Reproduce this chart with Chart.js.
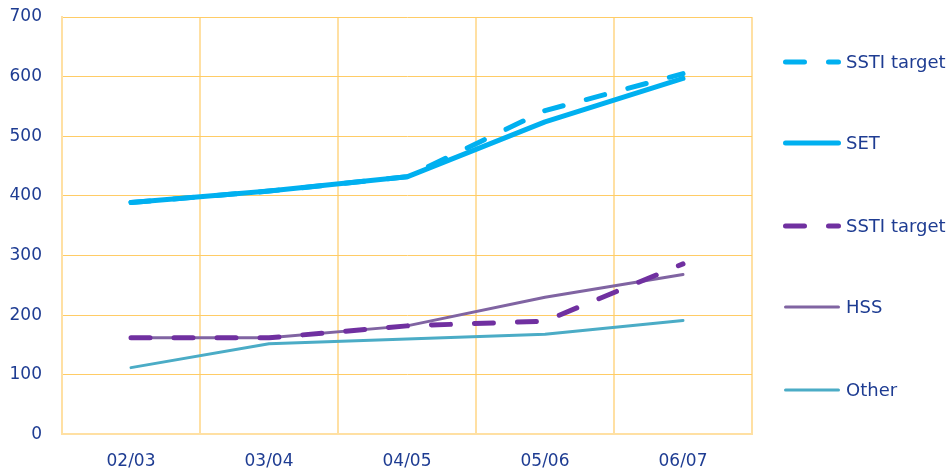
<!DOCTYPE html>
<html>
<head>
<meta charset="utf-8">
<script src="https://cdn.jsdelivr.net/npm/chart.js@4"></script>
<style>
  html, body { margin: 0; padding: 0; background: #fff; }
  #wrap { width: 950px; height: 476px; }
</style>
</head>
<body>
<div id="wrap"><canvas id="trendChart" width="950" height="476"></canvas></div>
<script>
// Years on the x axis
const years = ['02/03', '03/04', '04/05', '05/06', '06/07'];

// Series values
const setTarget = [389, 408, 432, 543, 605];
const setValues = [389, 408, 432, 524, 597];
const hssTarget = [162, 162, 182, 190, 286];
const hssValues = [162, 162, 182, 230, 268];
const otherValues = [112, 152, 160, 168, 191];

const yTicks = [0, 100, 200, 300, 400, 500, 600, 700];

const textColor = '#1e3c92';
const fontFamily = "'DejaVu Sans', Verdana, sans-serif";

const datasets = [
  { label: 'SSTI target', data: setTarget, borderColor: '#00b0f0', borderWidth: 5, borderDash: [19, 24], legendDash: [19, 24] },
  { label: 'SET', data: setValues, borderColor: '#00b0f0', borderWidth: 5 },
  { label: 'SSTI target', data: hssTarget, borderColor: '#7030a0', borderWidth: 5, borderDash: [19, 24], legendDash: [19, 24] },
  { label: 'HSS', data: hssValues, borderColor: '#8064a2', borderWidth: 3 },
  { label: 'Other', data: otherValues, borderColor: '#4bacc6', borderWidth: 3 }
].map(d => Object.assign({
  fill: false,
  tension: 0,
  pointRadius: 0,
  borderCapStyle: 'round',
  borderJoinStyle: 'round'
}, d));

// Legend drawn on the right with line samples
const sideLegend = {
  id: 'sideLegend',
  afterDraw(chart) {
    const ctx = chart.ctx;
    const x0 = 785.5, x1 = 838.5;
    const rowY = [62, 143, 226, 307, 390];
    ctx.save();
    chart.data.datasets.forEach((ds, i) => {
      const y = rowY[i];
      ctx.beginPath();
      ctx.strokeStyle = ds.borderColor;
      ctx.lineWidth = ds.borderWidth;
      ctx.lineCap = 'round';
      ctx.setLineDash(ds.legendDash || []);
      ctx.moveTo(x0, y);
      ctx.lineTo(x1, y);
      ctx.stroke();
      ctx.setLineDash([]);
      ctx.fillStyle = textColor;
      ctx.font = '18px ' + fontFamily;
      ctx.textBaseline = 'middle';
      ctx.textAlign = 'left';
      ctx.fillText(ds.label, 846, y + 1);
    });
    ctx.restore();
  }
};

new Chart(document.getElementById('trendChart').getContext('2d'), {
  type: 'line',
  data: { labels: years, datasets: datasets },
  options: {
    responsive: false,
    animation: false,
    layout: { padding: { top: 17, right: 198, left: 0, bottom: 0 } },
    plugins: {
      legend: { display: false },
      tooltip: { enabled: false }
    },
    scales: {
      x: {
        offset: true,
        grid: { offset: true, color: '#ffe0a3', lineWidth: 2, drawTicks: false },
        border: { color: '#ffe0a3', width: 2 },
        ticks: { color: textColor, font: { family: fontFamily, size: 17 }, padding: 17 },
        afterFit(scale) { scale.height = 41.6; }
      },
      y: {
        min: 0,
        max: 700,
        afterBuildTicks(scale) { scale.ticks = yTicks.map(v => ({ value: v })); },
        grid: { color: '#ffcc66', lineWidth: 1, drawTicks: false },
        border: { color: '#ffe0a3', width: 2 },
        ticks: { color: textColor, font: { family: fontFamily, size: 17 }, padding: 20 },
        afterFit(scale) {
          scale.width = 62;
          scale.paddingTop = 0;
          scale.paddingBottom = 0;
        }
      }
    }
  },
  plugins: [sideLegend]
});
</script>
</body>
</html>
